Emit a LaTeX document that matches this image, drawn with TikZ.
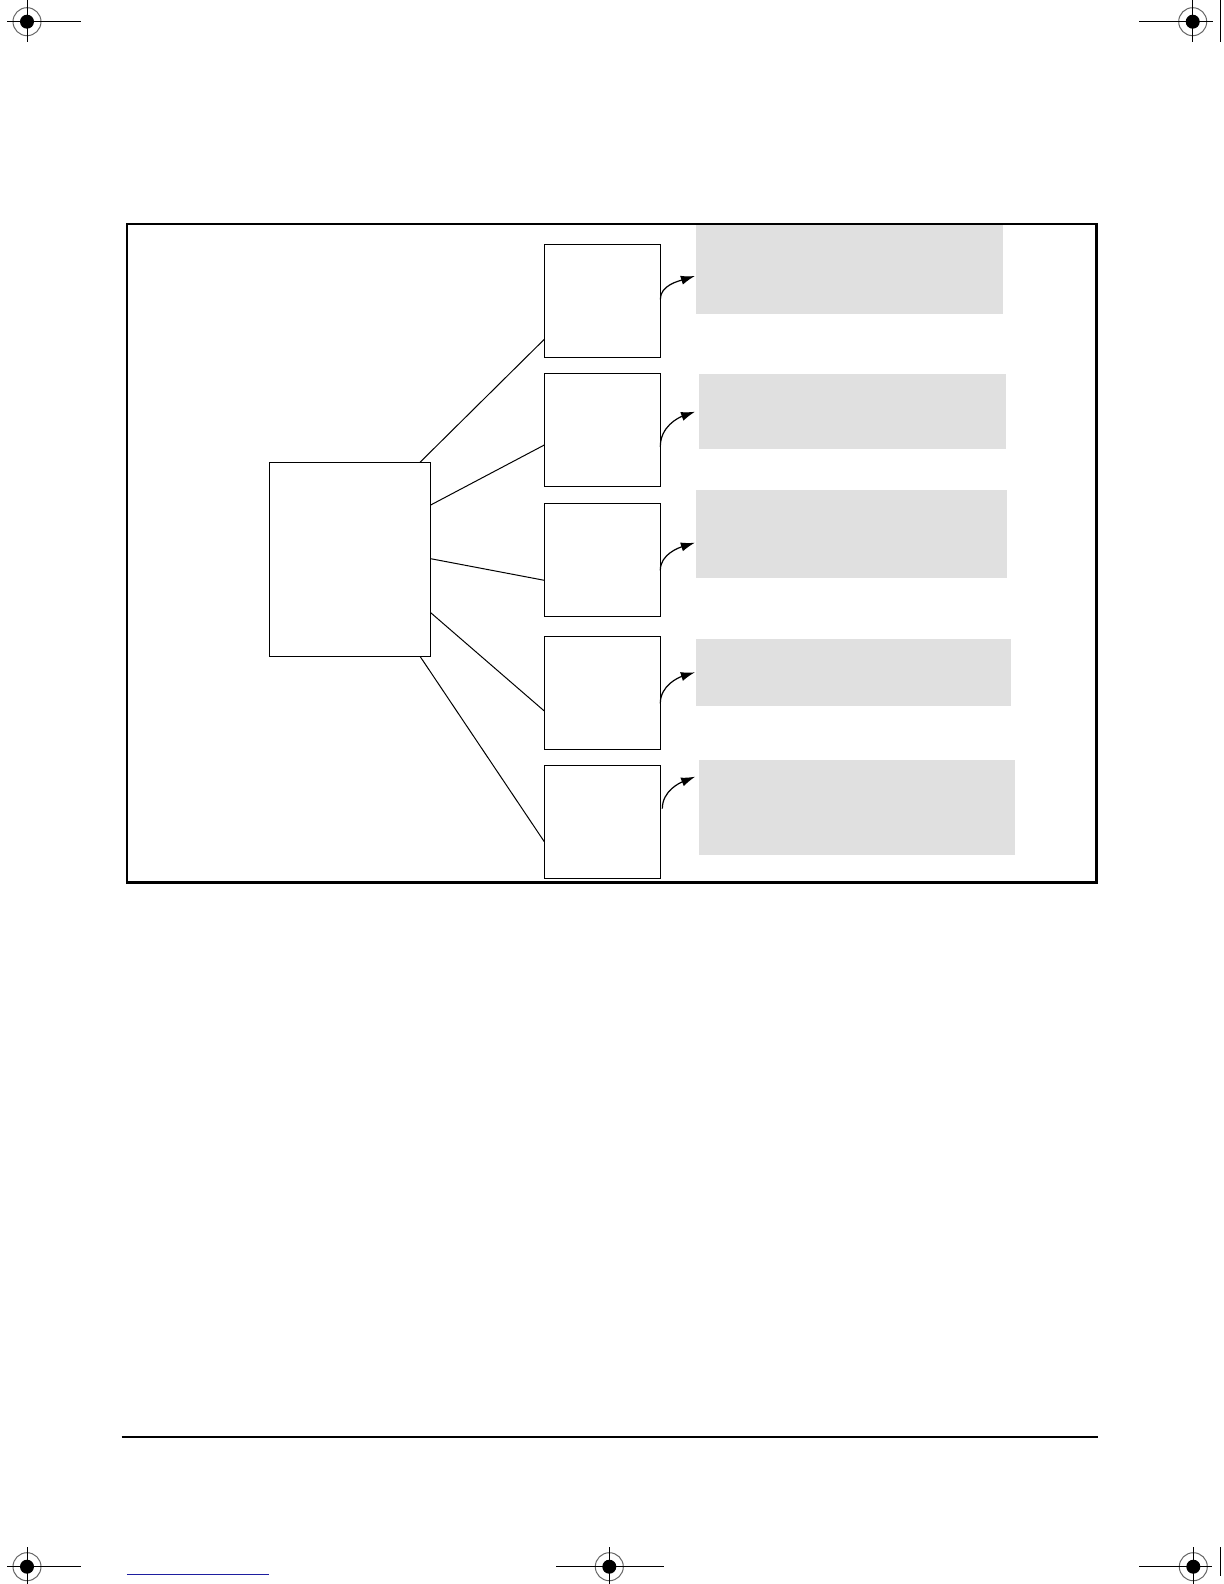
\documentclass[tikz,border=0pt]{standalone}
\usetikzlibrary{calc,arrows.meta}
\definecolor{panelgray}{RGB}{224,224,224}
\definecolor{linkblue}{RGB}{30,30,160}
\begin{document}
\begin{tikzpicture}[x=0.5pt,y=-0.5pt,
  box/.style={draw,line width=0.65pt,inner sep=0,outer sep=0,minimum width=58pt,minimum height=56.5pt},
  hubbox/.style={draw,line width=0.65pt,inner sep=0,outer sep=0,minimum width=80.5pt,minimum height=97pt},
  panel/.style={fill=panelgray,inner sep=0,outer sep=0},
  frame/.style={line width=1.25pt},
  link/.style={line width=0.5pt},
  curv/.style={line width=0.6pt,-{Latex[length=7pt,width=4.6pt]}},
  cropline/.style={line width=0.5pt},
  regmark/.pic={
    \draw[black!60,line width=0.5pt] (0,0) circle[radius=14];
    \fill (0,0) circle[radius=7];
  }]
\useasboundingbox (0,0) rectangle (1224,1584);

% gray panels
\node[panel,minimum width=153.6pt,minimum height=44.35pt] (g1) at (849.5,269.4) {};
\node[panel,minimum width=153.2pt,minimum height=37.35pt] (g2) at (852.3,411.4) {};
\node[panel,minimum width=155.4pt,minimum height=43.85pt] (g3) at (851.3,533.9) {};
\node[panel,minimum width=157.4pt,minimum height=33.35pt] (g4) at (853.3,672.4) {};
\node[panel,minimum width=157.75pt,minimum height=47.35pt] (g5) at (856.9,807.4) {};

% frame
\draw[frame] (126.8,224) rectangle (1096.6,882.7);

% boxes
\node[hubbox] (hub) at (350.2,559.3) {};
\node[box] (b1) at (602.3,300.8) {};
\node[box] (b2) at (602.3,429.8) {};
\node[box] (b3) at (602.3,559.8) {};
\node[box] (b4) at (602.3,692.7) {};
\node[box] (b5) at (602.3,821.8) {};

% connectors hub -> boxes
\draw[link] ($(hub.north east)+(-10.7,0)$) -- ($(b1.west)+(0,38.5)$);
\draw[link] ($(hub.east)+(0,-54.3)$) -- ($(b2.west)+(0,15.2)$);
\draw[link] ($(hub.east)+(0,-0.6)$) -- ($(b3.west)+(0,20.5)$);
\draw[link] ($(hub.east)+(0,53.4)$) -- ($(b4.west)+(0,18.3)$);
\draw[link] ($(hub.south east)+(-10.7,0)$) -- ($(b5.west)+(0,19.9)$);

% curved arrows boxes -> panels
\draw[curv] ($(b1.east)+(0,-1.5)$) .. controls +(0,-14) and +(-16,5) .. ($(g1.west)+(-1,6.6)$);
\draw[curv] ($(b2.east)+(0,16.9)$) .. controls +(0,-20) and +(-17,6) .. ($(g2.west)+(-4,0.3)$);
\draw[curv] ($(b3.east)+(0,10.5)$) .. controls +(0,-16) and +(-16,5) .. ($(g3.west)+(-1,8.8)$);
\draw[curv] ($(b4.east)+(0,10.6)$) .. controls +(0,-18) and +(-16,5) .. ($(g4.west)+(-1,-0.1)$);
\draw[curv] ($(b5.east)+(2,-13.1)$) .. controls +(0,-18) and +(-15,6) .. ($(g5.west)+(-4,-30.7)$);

% footer rule and link line
\draw[line width=0.7pt] (121.5,1437) -- (1097.8,1437);
\draw[linkblue,line width=0.5pt] (126.8,1574) -- (268.8,1574);

% registration marks
\path (27,21.7) pic {regmark};
\draw[cropline] (7,21.7) -- (80.7,21.7) (27,0) -- (27,41.7);
\path (1192.7,21.7) pic {regmark};
\draw[cropline] (1139,21.7) -- (1212.7,21.7) (1192.7,0) -- (1192.7,41.7);
\draw[line width=0.6pt] (1220.5,0) -- (1220.5,41.7);
\path (27,1566.7) pic {regmark};
\draw[cropline] (7,1566.7) -- (80.7,1566.7) (27,1547) -- (27,1584);
\path (609.3,1566.7) pic {regmark};
\draw[cropline] (556,1566.7) -- (664,1566.7) (609.3,1547) -- (609.3,1584);
\path (1193.3,1566.7) pic {regmark};
\draw[cropline] (1139,1566.7) -- (1212.3,1566.7) (1193.3,1547) -- (1193.3,1584);
\draw[line width=0.6pt] (1220.7,1547) -- (1220.7,1576);
\end{tikzpicture}
\end{document}
